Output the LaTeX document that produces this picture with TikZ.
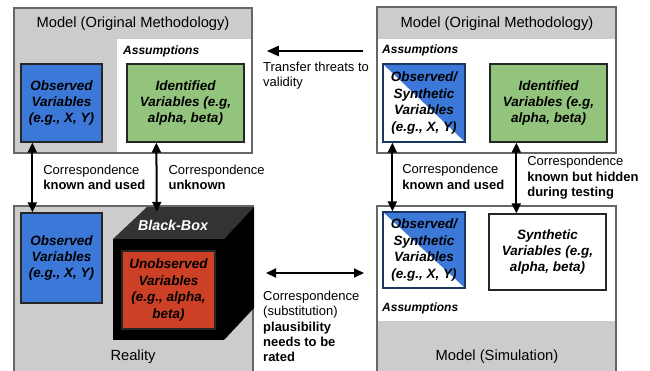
\documentclass[tikz,border=0pt]{standalone}
\usepackage{fontspec}
\setmainfont{Liberation Sans}
\usetikzlibrary{arrows.meta}

\definecolor{obsblue}{HTML}{3C78D8}
\definecolor{idgreen}{HTML}{93C47D}
\definecolor{unred}{HTML}{CC4125}
\definecolor{framegray}{HTML}{CCCCCC}
\definecolor{framedraw}{HTML}{666666}
\definecolor{cubetop}{HTML}{333333}

\tikzset{
  frame/.style={draw=framedraw, line width=1.5pt, rectangle, inner sep=0pt},
  varbox/.style={draw=black!85, line width=1.3pt, rectangle, inner sep=0pt, align=center,
    font=\fontsize{13.5}{16.4}\selectfont\bfseries\itshape},
  halfbox/.style={varbox, fill=white, draw=obsblue!45!black,
    path picture={\fill [obsblue] (path picture bounding box.north west) -- (path picture bounding box.north east) -- (path picture bounding box.south east) -- cycle;}},
  title/.style={inner sep=0pt, font=\fontsize{14.7}{17}\selectfont},
  assum/.style={anchor=west, inner sep=0pt, font=\fontsize{12}{14}\selectfont\bfseries\itshape},
  note/.style={anchor=west, inner sep=0pt, align=left, font=\fontsize{13}{15.4}\selectfont},
  tip/.style={Triangle[width=9pt,length=10pt]},
  dbl/.style={{Triangle[width=9pt,length=10pt]}-{Triangle[width=9pt,length=10pt]}, line width=2pt},
  sgl/.style={-{Triangle[width=10pt,length=12pt]}, line width=2pt},
}

\begin{document}
\begin{tikzpicture}[x=1pt,y=-1pt]
\useasboundingbox [fill=white] (0,0) rectangle (650,370);

% reality side
\node [frame, fill=framegray, minimum width=238pt, minimum height=145pt] (tlframe) at (133,80.5) {};
\fill [white] (117,39) rectangle (251,151.5);
\node [title] (tltitle) at (133,24) {Model (Original Methodology)};
\node [assum] (tlassum) at (123,51) {Assumptions};
\node [varbox, fill=obsblue, minimum width=81pt, minimum height=78pt] (tlobs) at (61.5,103) {Observed\\Variables\\(e.g., X, Y)};
\node [varbox, fill=idgreen, minimum width=117pt, minimum height=78pt] (tlid) at (185.5,103) {Identified\\Variables (e.g,\\alpha, beta)};

\node [frame, fill=framegray, minimum width=239pt, minimum height=166pt] (blframe) at (133.5,289) {};
\node [title] (reality) at (133,357) {Reality};
\node [varbox, fill=obsblue, minimum width=81pt, minimum height=90pt] (blobs) at (61.5,258) {Observed\\Variables\\(e.g., X, Y)};

% black box cube
\fill [cubetop] (113,239) -- (147,207) -- (254,207) -- (224,239) -- cycle;
\fill [black] (224,239) -- (254,207) -- (254,308) -- (224,340) -- cycle;
\node [fill=black, inner sep=0pt, minimum width=111pt, minimum height=101pt] (bbox) at (168.5,289.5) {};
\node [inner sep=0pt, white, font=\fontsize{14.3}{17}\selectfont\bfseries\itshape] (bblabel) at (173,225) {Black-Box};
\node [varbox, fill=unred, minimum width=93pt, minimum height=78pt] (blun) at (168.5,290) {Unobserved\\Variables\\(e.g., alpha,\\beta)};

% simulation side
\node [frame, fill=white, minimum width=239pt, minimum height=146pt,
  path picture={\fill [framegray] (path picture bounding box.north west) rectangle ([yshift=-32pt]path picture bounding box.north east);}] (trframe) at (496.5,80) {};
\node [title] (trtitle) at (497,24) {Model (Original Methodology)};
\node [assum] (trassum) at (382,50) {Assumptions};
\node [halfbox, minimum width=82pt, minimum height=78pt] (trobs) at (424,103) {Observed/\\Synthetic\\Variables\\(e.g., X, Y)};
\node [varbox, fill=idgreen, minimum width=117pt, minimum height=78pt] (trid) at (548.5,103) {Identified\\Variables (e.g,\\alpha, beta)};

\node [frame, fill=white, minimum width=239pt, minimum height=166pt,
  path picture={\fill [framegray] (path picture bounding box.south west) rectangle ([yshift=-115pt]path picture bounding box.north east);}] (brframe) at (496.5,289) {};
\node [title] (brtitle) at (497,357) {Model (Simulation)};
\node [assum] (brassum) at (382,308) {Assumptions};
\node [halfbox, minimum width=82pt, minimum height=76pt] (brobs) at (424,250) {Observed/\\Synthetic\\Variables\\(e.g., X, Y)};
\node [varbox, fill=white, minimum width=117pt, minimum height=76pt] (brsyn) at (547.5,252) {Synthetic\\Variables (e.g,\\alpha, beta)};

% correspondences
\draw [dbl] ([xshift=12pt]tlobs.south west) -- node [note, xshift=10pt] {Correspondence\\\textbf{known and used}} ([xshift=12pt]blobs.north west);
\draw [dbl] ([xshift=30pt]tlid.south west) -- node [note, xshift=11pt] {Correspondence\\\textbf{unknown}} ([xshift=44pt,yshift=27pt]bbox.north west);
\draw [dbl] ([xshift=10pt]trobs.south west) -- node [note, xshift=9pt] {Correspondence\\\textbf{known and used}} ([xshift=10pt]brobs.north west);
\draw [dbl] ([xshift=27pt]trid.south west) -- node [note, xshift=10pt] {Correspondence\\\textbf{known but hidden}\\\textbf{during testing}} ([xshift=27pt]trid.south west |- brsyn.north);

\draw [sgl] ([xshift=-13pt]trframe.west |- tlassum.west) -- ([xshift=14pt]tlframe.east |- tlassum.west);
\node [note] (transfer) at (263,75.5) {Transfer threats to\\validity};

\coordinate (subl) at (266,273);
\coordinate (subr) at (364,273);
\draw [dbl] (subl) -- (subr);
\node [note] (subst) at (263,326.5) {Correspondence\\(substitution)\\\textbf{plausibility}\\\textbf{needs to be}\\\textbf{rated}};
\end{tikzpicture}
\end{document}
